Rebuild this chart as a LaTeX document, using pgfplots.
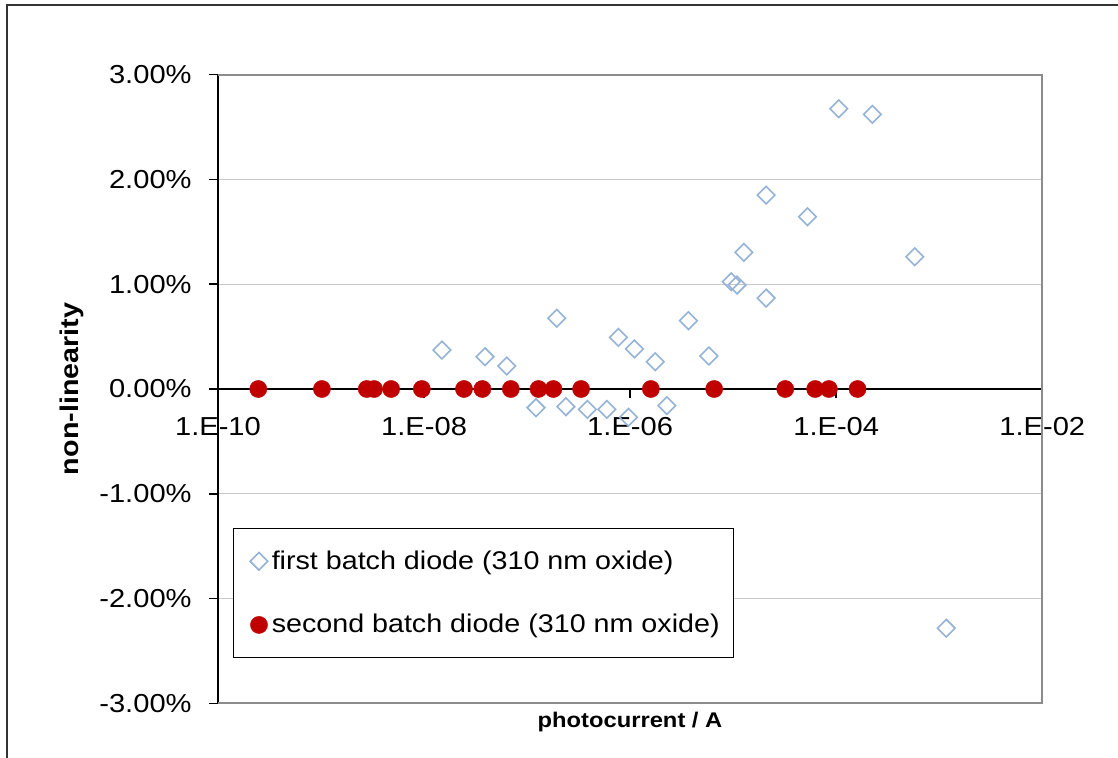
\documentclass[border=0pt]{standalone}
\usepackage{fontspec}
\setmainfont{Liberation Sans}[FakeStretch=1.12]
\usepackage{pgfplots}
\pgfplotsset{compat=1.18}
\definecolor{dblue}{RGB}{149,179,215}
\definecolor{dred}{RGB}{192,0,0}

\pgfplotstableread{
x y
1.49e-8 0.372
3.91e-8 0.308
6.35e-8 0.219
1.22e-7 -0.178
1.94e-7 0.675
2.38e-7 -0.169
3.85e-7 -0.194
5.95e-7 -0.194
7.69e-7 0.493
9.62e-7 -0.270
1.10e-6 0.382
1.75e-6 0.260
2.27e-6 -0.159
3.68e-6 0.652
5.81e-6 0.315
9.57e-6 1.024
1.09e-5 0.992
1.27e-5 1.304
2.09e-5 1.851
2.09e-5 0.868
5.26e-5 1.644
1.06e-4 2.675
2.24e-4 2.621
5.78e-4 1.262
1.17e-3 -2.283
}\firstbatch

\pgfplotstableread{
x y
2.46e-10 0
1.02e-9 0
2.78e-9 0
3.27e-9 0
4.79e-9 0
9.51e-9 0
2.44e-8 0
3.68e-8 0
6.95e-8 0
1.29e-7 0
1.80e-7 0
3.34e-7 0
1.59e-6 0
6.54e-6 0
3.20e-5 0
6.25e-5 0
8.49e-5 0
1.61e-4 0
}\secondbatch

\begin{document}
\begin{tikzpicture}
\useasboundingbox (0,0) rectangle (559pt,379pt);
\draw[black!80, line width=0.8pt] (3.5pt,-1pt) -- (3.5pt,376.5pt) -- (561pt,376.5pt);
\begin{axis}[
  at={(109pt,27.35pt)}, anchor=south west,
  scale only axis, width=412.15pt, height=314.3pt,
  xmode=log, xmin=1e-10, xmax=1e-2,
  ymin=-3, ymax=3,
  axis x line=middle, axis y line=left,
  axis line style={-, black, line width=0.75pt},
  hide obscured x ticks=false, hide obscured y ticks=false,
  xtick={1e-10,1e-8,1e-6,1e-4,1e-2},
  xticklabels={1.E-10,1.E-08,1.E-06,1.E-04,1.E-02},
  ytick={-3,-2,-1,0,1,2,3},
  yticklabels={-3.00\%,-2.00\%,-1.00\%,0.00\%,1.00\%,2.00\%,3.00\%},
  xminorticks=false, yminorticks=false,
  tick align=outside, major tick length=4.5pt,
  tick style={black, line width=0.75pt},
  ymajorgrids, major grid style={black!22, line width=0.6pt},
  ticklabel style={font=\fontsize{13}{15}\selectfont},
  xticklabel style={anchor=north, inner sep=0pt, yshift=-9.5pt},
  yticklabel style={anchor=east, inner sep=0pt, xshift=-8.5pt},
  clip=false,
  legend cell align=left,
  legend image code/.code={\path (0pt,0pt); \draw[#1] plot coordinates {(7.4pt,0pt)};},
  legend style={at={(0.0182,0.2789)}, anchor=north west, draw=black, line width=0.6pt,
    font=\fontsize{12.8}{15}\selectfont, inner xsep=5pt, inner ysep=9pt, row sep=17pt},
]
\draw[black!45, line width=1pt] (rel axis cs:0,1) -- (rel axis cs:1,1) -- (rel axis cs:1,0) -- (rel axis cs:0,0);
\addplot[only marks, mark=square, mark size=3.1pt,
  mark options={rotate=45, draw=dblue, line width=0.8pt}] table[x=x,y=y] {\firstbatch};
\addlegendentry{first batch diode (310 nm oxide)}
\addplot[only marks, mark=*, mark size=4.3pt,
  mark options={draw=dred, fill=dred, line width=0.2pt}] table[x=x,y=y] {\secondbatch};
\addlegendentry{second batch diode (310 nm oxide)}
\end{axis}
\node[rotate=90, font=\bfseries\fontsize{12.8}{15}\selectfont] at (36pt,184.5pt) {non-linearity};
\node[font=\bfseries\fontsize{10.6}{13}\selectfont] at (315pt,18pt) {photocurrent / A};
\end{tikzpicture}
\end{document}
